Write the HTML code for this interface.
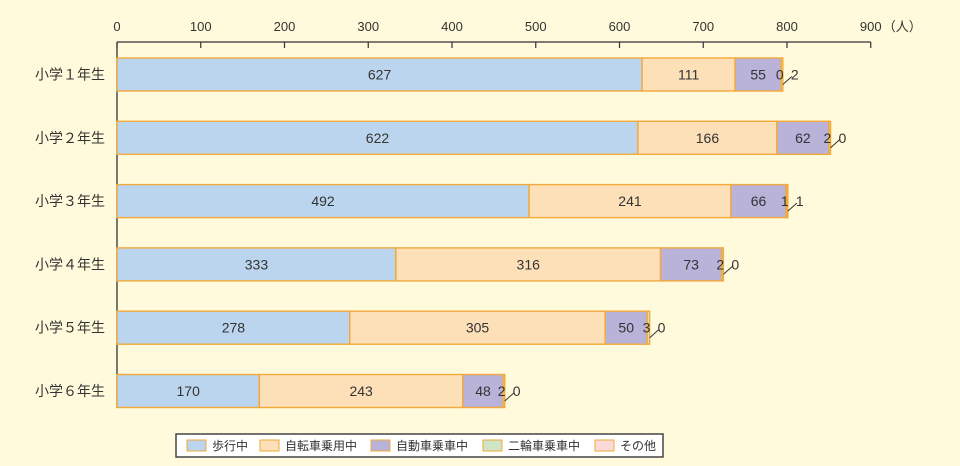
<!DOCTYPE html>
<html><head><meta charset="utf-8"><style>
html,body{margin:0;padding:0;background:#fffadc;}
svg{display:block;font-family:"Liberation Sans","Noto Sans CJK JP",sans-serif;}
</style></head><body>
<svg id="chart" width="960" height="466">
<rect width="960" height="466" fill="#fffadc"/>
<g id="axes"></g><g id="bars"></g><g id="legend"></g>
</svg>
<script>
const categories = ["小学１年生","小学２年生","小学３年生","小学４年生","小学５年生","小学６年生"];
const walking = [627,622,492,333,278,170];
const bicycle = [111,166,241,316,305,243];
const car = [55,62,66,73,50,48];
const twoWheel = [0,2,1,2,3,2];
const other = [2,0,1,0,0,0];
const ticks = [0,100,200,300,400,500,600,700,800,900];
const seriesNames = ["歩行中","自転車乗用中","自動車乗車中","二輪車乗車中","その他"];
const colors = ["#bcd5ee","#fde0b8","#b9b2d9","#cfe5c5","#fbd9d9"];

const NS="http://www.w3.org/2000/svg";
const x0=117, pxPer=0.8375, top0=42, pitch=63.3, barTop0=58, barH=33;
const xs=v=>x0+v*pxPer;
function mk(tag,attrs,parent,text){const e=document.createElementNS(NS,tag);for(const k in attrs)e.setAttribute(k,attrs[k]);if(text!==undefined)e.textContent=text;parent.appendChild(e);return e;}
const axes=document.getElementById('axes'),bars=document.getElementById('bars'),legend=document.getElementById('legend');

let l=mk('line',{x1:x0,y1:top0,x2:xs(900),y2:top0,stroke:'#333','stroke-width':1.3},axes);


l=mk('line',{x1:x0,y1:top0,x2:x0,y2:408,stroke:'#333','stroke-width':1.3},axes);


ticks.forEach(t=>{
  const tk=mk('line',{x1:xs(t),y1:top0,x2:xs(t),y2:top0+6,stroke:'#333','stroke-width':1.2},axes);
  
  
  const tl=mk('text',{x:xs(t),y:31,'font-size':13,fill:'#333','text-anchor':'middle'},axes,String(t));
  
  
});
const unit=mk('text',{x:xs(900)+12,y:31,'font-size':13,fill:'#333'},axes,'（人）');


for(let i=1;i<=categories.length;i++){
  const y=top0+pitch*i-20;
  const tk=mk('line',{x1:x0,y1:y,x2:x0+5,y2:y,stroke:'#333','stroke-width':1.2},axes);
  
  
}

const series=[walking,bicycle,car,twoWheel,other];
categories.forEach((c,i)=>{
  const y=barTop0+pitch*i, cy=y+barH/2;
  const lab=mk('text',{x:105,y:cy+5,'font-size':14,fill:'#333','text-anchor':'end'},bars,c);
  
  
  let acc=0;
  series.forEach((s,j)=>{
    const v=s[i];
    const r=mk('rect',{x:xs(acc),y:y,width:Math.max(v*pxPer,0),height:barH,fill:colors[j],stroke:'#f2a93b','stroke-width':1.4},bars);
    
    
    if(j<3){
      const t=mk('text',{x:xs(acc+v/2),y:cy+5,'font-size':14,fill:'#333','text-anchor':'middle'},bars,String(v));
      
      
    }
    acc+=v;
  });
  const end=xs(acc);
  const ld=mk('line',{x1:end,y1:cy+10,x2:end+9,y2:cy+2,stroke:'#333','stroke-width':1},bars);
  
  
  const t1=mk('text',{x:end-7,y:cy+5,'font-size':14,fill:'#333'},bars,String(twoWheel[i]));
  
  
  const t2=mk('text',{x:end+8,y:cy+5,'font-size':14,fill:'#333'},bars,String(other[i]));
  
  
});

const lb=mk('rect',{x:176,y:434,width:487,height:23,fill:'#fff',stroke:'#444','stroke-width':1.5},legend);


const lx=[187,260,371,483,595];
seriesNames.forEach((n,j)=>{
  const sw=mk('rect',{x:lx[j],y:440,width:19,height:11,fill:colors[j],stroke:'#f2a93b','stroke-width':1},legend);
  
  
  const t=mk('text',{x:lx[j]+25,y:450,'font-size':12,fill:'#333'},legend,n);
  
  
});
</script>
</body></html>
